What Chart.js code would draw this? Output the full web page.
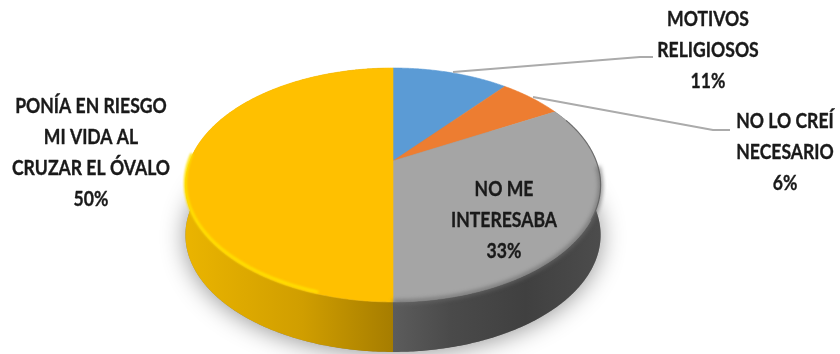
<!DOCTYPE html>
<html lang="es">
<head>
<meta charset="utf-8">
<title>Motivos</title>
<script src="https://cdn.jsdelivr.net/npm/chart.js@4/dist/chart.umd.min.js"></script>
<style>
  html, body { margin: 0; padding: 0; background: #ffffff; }
  #box { width: 840px; height: 354px; }
</style>
</head>
<body>
<div id="box"><canvas id="pie" width="840" height="354"></canvas></div>
<script>
// Survey answers, clockwise from twelve o'clock.
const categories = ['MOTIVOS RELIGIOSOS', 'NO LO CREÍ NECESARIO', 'NO ME INTERESABA', 'PONÍA EN RIESGO MI VIDA AL CRUZAR EL ÓVALO'];
const shares = [11, 6, 33, 50];
const sliceColors = ['#5b9bd5', '#ed7d31', '#a5a5a5', '#ffc000'];
const labelLines = [
  ['MOTIVOS', 'RELIGIOSOS'],
  ['NO LO CREÍ', 'NECESARIO'],
  ['NO ME', 'INTERESABA'],
  ['PONÍA EN RIESGO', 'MI VIDA AL', 'CRUZAR EL ÓVALO']
];

// Page layout of the callouts: anchor centre and first text row.
const labelSpots = [
  { x: 708, y: 20 },
  { x: 785, y: 122 },
  { x: 504, y: 190 },
  { x: 91, y: 107 }
];
const leaders = [
  [[453, 72], [640, 57], [653, 57]],
  [[533, 97], [713, 130], [730, 130]],
];
const lineStep = 30.8;
const textSqueeze = 0.88;

// Perspective of the tilted disc.
const tilt = { stretchX: 1.262, stretchY: 0.696, depth: 0.205, wall: 50 };

function project(arc, angle, drop) {
  const u = Math.cos(angle), v = -Math.sin(angle);
  const w = 1 / (1 + tilt.depth * v);
  return {
    x: arc.x + arc.outerRadius * tilt.stretchX * u * w,
    y: arc.y - arc.outerRadius * tilt.stretchY * v * w + (drop || 0)
  };
}

function rimPoints(arc, from, to, drop) {
  const pts = [];
  const steps = Math.max(2, Math.ceil(Math.abs(to - from) / 0.01));
  for (let i = 0; i <= steps; i++) {
    pts.push(project(arc, from + (to - from) * i / steps, drop));
  }
  return pts;
}

function trace(ctx, pts, keepGoing) {
  pts.forEach((p, i) => (i === 0 && !keepGoing) ? ctx.moveTo(p.x, p.y) : ctx.lineTo(p.x, p.y));
}

function wallGradient(ctx, stops) {
  const g = ctx.createLinearGradient(186, 0, 600, 0);
  stops.forEach(([at, c]) => g.addColorStop(at, c));
  return g;
}

const wallStops = {
  2: [[0.5, '#5c5c5c'], [0.64, '#4a4a4a'], [0.82, '#404040'], [1, '#4c4c4c']],
  3: [[0, '#eab400'], [0.28, '#d09e00'], [0.499, '#a67d00'], [0.5, '#a67d00']]
};

const tiltedDisc = {
  id: 'tiltedDisc',
  beforeDatasetDraw(chart) {
    const ctx = chart.ctx;
    const arcs = chart.getDatasetMeta(0).data;
    const first = arcs[0];
    const whole = rimPoints(first, -Math.PI / 2, Math.PI * 1.5, tilt.wall);

    // Soft shadow the disc throws on the page.
    ctx.save();
    ctx.shadowColor = 'rgba(0,0,0,0.42)';
    ctx.shadowBlur = 24;
    ctx.shadowOffsetY = 2;
    ctx.fillStyle = '#888888';
    ctx.beginPath();
    trace(ctx, whole);
    ctx.closePath();
    ctx.fill();
    ctx.restore();

    // Side walls of the front-facing slices.
    arcs.forEach((arc, i) => {
      if (!wallStops[i]) return;
      ctx.beginPath();
      trace(ctx, rimPoints(arc, arc.startAngle, arc.endAngle, 0));
      trace(ctx, rimPoints(arc, arc.endAngle, arc.startAngle, tilt.wall), true);
      ctx.closePath();
      ctx.fillStyle = wallGradient(ctx, wallStops[i]);
      ctx.fill();
    });

    // Top face.
    arcs.forEach((arc, i) => {
      ctx.beginPath();
      ctx.moveTo(arc.x, arc.y);
      trace(ctx, rimPoints(arc, arc.startAngle, arc.endAngle, 0), true);
      ctx.closePath();
      ctx.fillStyle = sliceColors[i];
      ctx.strokeStyle = sliceColors[i];
      ctx.lineWidth = 0.6;
      ctx.fill();
      ctx.stroke();
    });

    // Bevel along the front rim of the two large slices.
    const grey = arcs[2], amber = arcs[3];
    ctx.save();
    ctx.filter = 'blur(2px)';
    ctx.lineWidth = 4;
    ctx.strokeStyle = 'rgba(105,105,105,0.8)';
    ctx.beginPath();
    trace(ctx, rimPoints(grey, grey.startAngle + 0.55, grey.endAngle, 0));
    ctx.stroke();
    ctx.restore();

    ctx.save();
    ctx.filter = 'blur(0.8px)';
    ctx.lineWidth = 3;
    ctx.strokeStyle = '#ffe000';
    ctx.beginPath();
    trace(ctx, rimPoints(amber, amber.startAngle + 0.3, amber.startAngle + 1.62, -2));
    ctx.stroke();
    ctx.restore();

    // Thin darker lip on the right edge of the grey slice.
    ctx.save();
    ctx.lineWidth = 1.2;
    ctx.strokeStyle = 'rgba(90,90,90,0.7)';
    ctx.beginPath();
    trace(ctx, rimPoints(grey, grey.startAngle + 0.1, grey.startAngle + 1.0, 0));
    ctx.stroke();
    ctx.restore();

    return false;
  },
  afterDatasetsDraw(chart) {
    const ctx = chart.ctx;
    ctx.save();
    ctx.lineJoin = 'round';
    ctx.lineWidth = 2;
    ctx.strokeStyle = '#ababab';
    leaders.forEach(path => {
      ctx.beginPath();
      trace(ctx, path.map(([x, y]) => ({ x, y })));
      ctx.stroke();
    });
    ctx.fillStyle = '#1a1a1a';
    ctx.strokeStyle = '#1a1a1a';
    ctx.lineWidth = 0.35;
    ctx.font = 'bold 20px Lato, sans-serif';
    ctx.textAlign = 'center';
    ctx.textBaseline = 'middle';
    labelLines.forEach((lines, i) => {
      const spot = labelSpots[i];
      const rows = lines.concat(shares[i] + '%');
      rows.forEach((text, r) => {
        ctx.save();
        ctx.translate(spot.x, spot.y + r * lineStep);
        ctx.scale(textSqueeze, 1);
        ctx.fillText(text, 0, 0);
        ctx.strokeText(text, 0, 0);
        ctx.restore();
      });
    });
    ctx.restore();
  }
};

new Chart(document.getElementById('pie'), {
  type: 'pie',
  data: {
    labels: categories,
    datasets: [{ data: shares, backgroundColor: sliceColors, borderWidth: 0 }]
  },
  options: {
    responsive: false,
    animation: false,
    events: [],
    layout: { padding: { left: 0, right: 54, top: 0, bottom: 32 } },
    plugins: { legend: { display: false }, tooltip: { enabled: false } }
  },
  plugins: [tiltedDisc]
});
</script>
</body>
</html>
